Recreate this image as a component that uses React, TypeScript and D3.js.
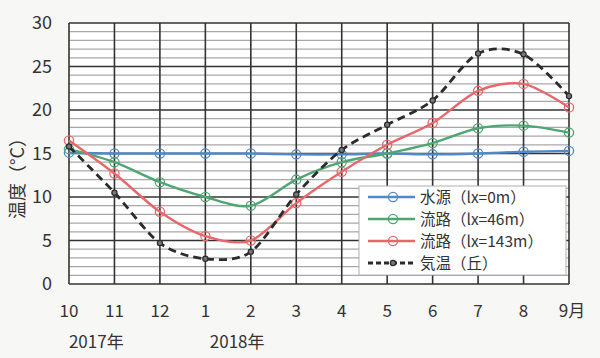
import React from "react";
import * as d3 from "d3";

const months = ["10", "11", "12", "1", "2", "3", "4", "5", "6", "7", "8", "9月"];
const yTicks = [0, 5, 10, 15, 20, 25, 30];
const yearLabels = [
  { idx: 0.6, text: "2017年" },
  { idx: 3.7, text: "2018年" },
];
const seriesNames = ["水源（lx=0m）", "流路（lx=46m）", "流路（lx=143m）", "気温（丘）"];
const source = [15.1, 15.0, 15.0, 15.0, 15.0, 14.9, 14.9, 15.0, 14.9, 15.0, 15.2, 15.3];
const flow46 = [15.5, 14.0, 11.7, 10.0, 9.0, 12.0, 14.0, 15.0, 16.2, 17.9, 18.2, 17.4];
const flow143 = [16.5, 12.7, 8.3, 5.5, 5.0, 9.3, 12.9, 16.0, 18.5, 22.2, 23.0, 20.3];
const air = [15.8, 10.5, 4.7, 2.9, 3.7, 10.3, 15.4, 18.3, 21.1, 26.5, 26.4, 21.6];

const W = 600, H = 358;
const L = 69, R = 569, T = 23, B = 284;
const FONT = "'Noto Sans CJK JP', 'Noto Sans', sans-serif";

export default function App() {
  const x = d3.scaleLinear().domain([0, months.length - 1]).range([L, R]);
  const y = d3.scaleLinear().domain([0, 30]).range([B, T]);
  const line = d3
    .line<number>()
    .x((_, i) => x(i))
    .y((d) => y(d))
    .curve(d3.curveCardinal.tension(0.1));

  const series = [
    { name: seriesNames[0], data: source, color: "#5089c9", dash: null, air: false },
    { name: seriesNames[1], data: flow46, color: "#4fa672", dash: null, air: false },
    { name: seriesNames[2], data: flow143, color: "#e8676a", dash: null, air: false },
    { name: seriesNames[3], data: air, color: "#2b2b2b", dash: "8,5", air: true },
  ];

  const minor = d3.range(0, 31).filter((v) => v % 5 !== 0);
  const lgX = 359, lgY = 186, lgW = 207, lgH = 89;

  return (
    <svg width={W} height={H} style={{ position: "absolute", left: 0, top: 0 }} fontFamily={FONT}>
      <rect x={0} y={0} width={W} height={H} fill="#f7f7f5" />
      <rect x={L} y={T} width={R - L} height={B - T} fill="#ffffff" />
      {minor.map((v) => (
        <line key={"mi" + v} x1={L} x2={R} y1={y(v)} y2={y(v)} stroke="#a8a8a8" strokeWidth={1.2} />
      ))}
      {yTicks.map((v) => (
        <line key={"ma" + v} x1={L} x2={R} y1={y(v)} y2={y(v)} stroke="#333" strokeWidth={1.6} />
      ))}
      {months.map((m, i) => (
        <line key={"v" + i} x1={x(i)} x2={x(i)} y1={T} y2={B} stroke="#333" strokeWidth={1.6} />
      ))}
      {yTicks.map((v) => (
        <text key={"yt" + v} x={52} y={y(v)} dy="0.36em" textAnchor="end" fontSize={18} fill="#333">
          {v}
        </text>
      ))}
      {months.map((m, i) => (
        <text key={"xt" + i} x={x(i) + (i === months.length - 1 ? 3 : 0)} y={311} dy="0.36em" textAnchor="middle" fontSize={17} fill="#333">
          {m}
        </text>
      ))}
      {yearLabels.map((d) => (
        <text key={d.text} x={x(d.idx)} y={342} dy="0.36em" textAnchor="middle" fontSize={17} fill="#333">
          {d.text}
        </text>
      ))}
      <text transform={`translate(18,174) rotate(-90)`} textAnchor="middle" dy="0.36em" fontSize={18} fill="#333">
        温度（°C）
      </text>
      {series.map((s) => (
        <g key={s.name}>
          <path d={line(s.data) || ""} fill="none" stroke={s.color} strokeWidth={s.air ? 2.8 : 2.4} strokeDasharray={s.dash || undefined} />
          {s.data.map((v, i) => (
            <circle key={i} cx={x(i)} cy={y(v)} r={s.air ? 2.6 : 4.6} fill={s.air ? "#777" : "none"} stroke={s.color} strokeWidth={s.air ? 1.2 : 1.3} />
          ))}
        </g>
      ))}
      <rect x={lgX} y={lgY} width={lgW} height={lgH} fill="#fff" stroke="#b0b0b0" strokeWidth={1} />
      {series.map((s, i) => {
        const cy = 197 + i * 22;
        return (
          <g key={"lg" + i}>
            <line x1={368} x2={415} y1={cy} y2={cy} stroke={s.color} strokeWidth={s.air ? 2.8 : 2.4} strokeDasharray={s.air ? "5,3" : undefined} />
            <circle cx={393} cy={cy} r={s.air ? 2.6 : 4.6} fill={s.air ? "#777" : "none"} stroke={s.color} strokeWidth={1.3} />
            <text x={420} y={cy} dy="0.36em" fontSize={15.5} fill="#333">
              {s.name}
            </text>
          </g>
        );
      })}
    </svg>
  );
}
